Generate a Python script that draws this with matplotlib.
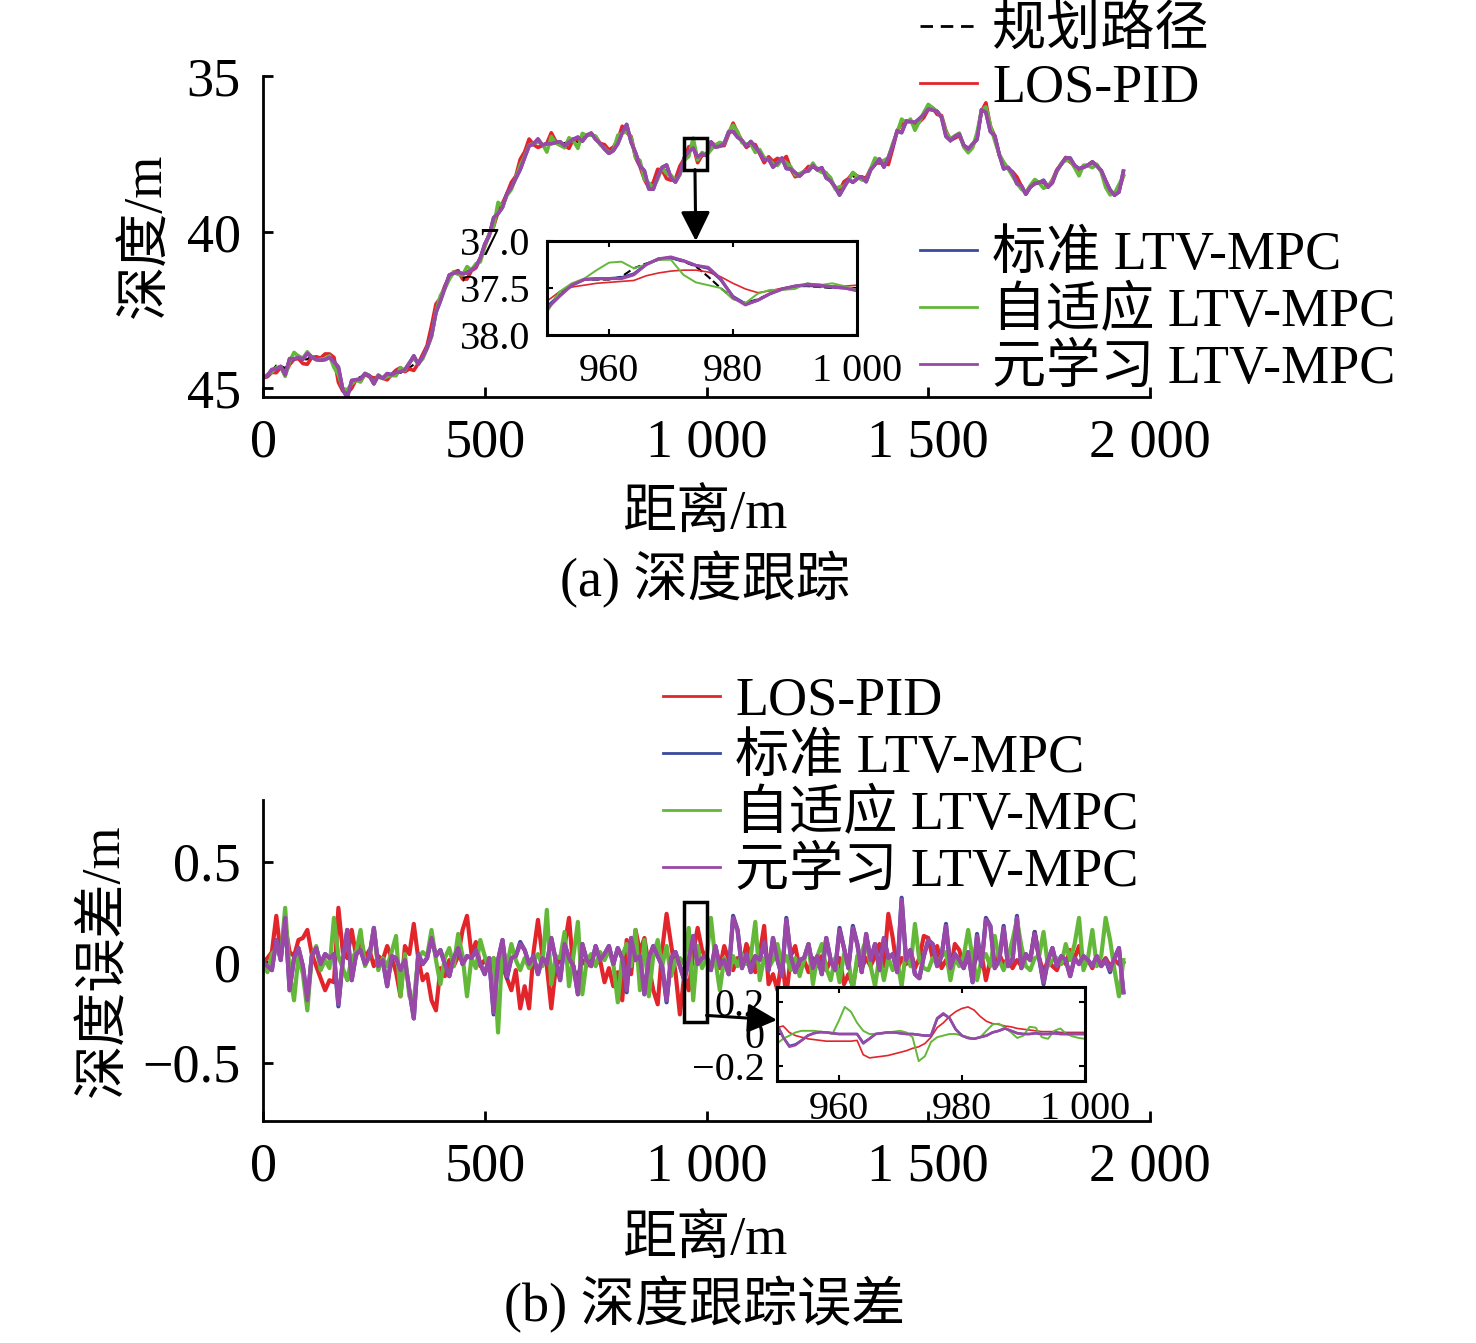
import numpy as np
import matplotlib
matplotlib.use('Agg')
import matplotlib.pyplot as plt
from matplotlib.patches import Rectangle, ConnectionPatch
from matplotlib.lines import Line2D

plt.rcParams['font.family'] = ['Liberation Serif', 'Noto Sans CJK SC']
plt.rcParams['font.size'] = 39
plt.rcParams['axes.unicode_minus'] = True

# ---- data ----
names = ['规划路径', 'LOS-PID', '标准 LTV-MPC', '自适应 LTV-MPC', '元学习 LTV-MPC']
colors = ['black', '#e2242b', '#3a4a9f', '#63b83a', '#9a48a8']

xticks = [0, 500, 1000, 1500, 2000]
xtick_labels = ['0', '500', '1 000', '1 500', '2 000']

# sampling grid (distance, m), every 10 m
dist = np.arange(0, 1950, 10)

# planned depth path
depth_ref = [44.68, 44.62, 44.45, 44.28, 44.30, 44.36, 44.20, 44.05, 43.95, 44.10,
             44.08, 43.98, 44.02, 44.12, 44.05, 44.00, 44.12, 44.55, 45.05, 45.15,
             44.85, 44.70, 44.65, 44.55, 44.58, 44.70, 44.62, 44.68, 44.66, 44.55,
             44.48, 44.52, 44.40, 44.35, 44.25, 44.20, 44.02, 43.70, 43.20, 42.55,
             42.15, 41.80, 41.45, 41.30, 41.22, 41.35, 41.28, 41.20, 41.05, 40.85,
             40.45, 40.10, 39.80, 39.40, 39.10, 38.85, 38.55, 38.25, 37.90, 37.55,
             37.25, 37.15, 37.08, 37.20, 37.18, 37.05, 37.12, 37.20, 37.15, 37.10,
             37.05, 37.12, 37.00, 36.90, 36.85, 36.95, 37.15, 37.30, 37.40, 37.40,
             37.10, 36.80, 36.70, 37.00, 37.45, 37.85, 38.20, 38.60, 38.55, 38.20,
             37.95, 38.05, 38.25, 38.35, 38.15, 37.71, 37.41, 37.18, 37.61, 37.48,
             37.52, 37.15, 37.20, 37.27, 37.15, 36.85, 36.55, 36.80, 37.10, 37.20,
             37.15, 37.25, 37.45, 37.60, 37.70, 37.80, 37.78, 37.70, 37.75, 37.95,
             38.15, 38.20, 38.05, 37.95, 37.90, 37.98, 38.00, 38.15, 38.35, 38.60,
             38.65, 38.50, 38.35, 38.23, 38.20, 38.28, 38.25, 38.00, 37.75, 37.70,
             37.80, 37.60, 37.20, 36.80, 36.50, 36.45, 36.40, 36.55, 36.45, 36.20,
             35.95, 36.00, 36.15, 36.30, 36.75, 37.10, 36.90, 36.85, 37.25, 37.30,
             37.28, 36.90, 36.10, 35.95, 36.60, 36.95, 37.50, 37.80, 37.95, 38.10,
             38.23, 38.55, 38.75, 38.55, 38.30, 38.40, 38.45, 38.55, 38.35, 38.05,
             37.80, 37.62, 37.70, 37.85, 37.98, 37.90, 37.85, 37.78, 37.85, 38.05,
             38.35, 38.70, 38.80, 38.65, 38.20]

# depth errors
err_pid = [0.00, 0.02, 0.05, 0.23, 0.04, 0.18, 0.05, 0.03, 0.11, 0.12,
           0.16, 0.04, -0.02, -0.08, -0.14, -0.09, -0.10, 0.27, 0.05, 0.02,
           0.16, 0.03, 0.12, 0.02, 0.06, -0.02, 0.03, 0.01, 0.08, 0.02,
           -0.05, -0.17, 0.08, 0.04, 0.19, 0.02, -0.09, -0.06, -0.19, -0.24,
           -0.03, -0.07, 0.01, -0.02, 0.03, 0.16, 0.23, 0.04, 0.10, -0.02,
           0.01, -0.03, 0.02, -0.05, -0.02, -0.08, -0.14, -0.04, -0.23, -0.12,
           -0.23, 0.05, 0.21, 0.03, -0.02, -0.23, -0.03, 0.02, 0.08, 0.22,
           -0.04, -0.07, 0.01, -0.02, 0.02, -0.01, 0.01, -0.10, -0.03, -0.12,
           -0.05, -0.19, 0.11, -0.06, 0.16, 0.05, 0.12, -0.02, -0.14, -0.21,
           0.06, 0.24, 0.09, -0.05, -0.26, -0.06, -0.14, 0.05, 0.17, 0.06,
           0.01, -0.02, 0.02, -0.03, 0.08, 0.01, -0.04, 0.02, -0.02, 0.09,
           0.03, -0.05, 0.04, 0.18, -0.11, -0.06, -0.14, 0.02, -0.17, 0.03,
           0.08, -0.03, 0.01, -0.05, 0.02, -0.02, 0.03, -0.04, 0.01, -0.02,
           0.02, -0.11, -0.06, -0.12, 0.01, -0.03, 0.02, -0.02, 0.03, 0.09,
           -0.02, 0.24, 0.12, -0.04, 0.02, -0.01, 0.06, -0.03, 0.02, 0.13,
           0.12, 0.02, 0.08, -0.03, 0.01, -0.04, 0.09, 0.06, -0.02, 0.01,
           -0.03, 0.03, 0.04, -0.09, 0.01, -0.02, 0.04, -0.01, 0.02, -0.03,
           0.01, -0.02, 0.03, 0.01, 0.15, 0.02, -0.05, 0.01, -0.02, -0.04,
           0.02, -0.01, 0.06, 0.02, 0.08, -0.02, 0.01, -0.03, 0.02, -0.01,
           0.02, -0.02, 0.01, -0.01, 0.00]
err_std = [0.00, -0.02, -0.04, 0.11, 0.01, 0.22, -0.14, 0.02, 0.07, -0.02,
           -0.19, 0.03, 0.07, -0.01, 0.04, 0.02, 0.04, -0.22, 0.01, 0.16,
           -0.09, 0.04, 0.06, -0.01, 0.03, 0.17, -0.02, 0.01, -0.12, 0.03,
           0.02, -0.04, 0.01, -0.14, -0.28, 0.04, -0.01, 0.02, 0.12, 0.03,
           0.06, -0.01, -0.07, 0.02, 0.07, -0.01, 0.03, 0.02, 0.06, -0.01,
           -0.06, 0.02, -0.26, 0.01, 0.11, -0.08, 0.02, 0.03, 0.10, 0.06,
           -0.01, 0.03, -0.06, 0.02, -0.01, 0.12, 0.01, -0.09, 0.09, 0.02,
           -0.02, -0.16, 0.09, 0.01, -0.02, 0.08, 0.01, 0.04, 0.08, -0.01,
           0.07, 0.02, -0.15, 0.12, 0.01, 0.03, -0.16, 0.02, 0.08, 0.03,
           -0.02, -0.20, 0.02, 0.05, -0.02, -0.09, 0.01, 0.13, -0.01, 0.02,
           0.03, -0.04, 0.08, -0.02, 0.01, -0.06, 0.23, 0.16, -0.03, 0.04,
           -0.05, 0.03, 0.01, 0.10, -0.04, 0.12, 0.01, -0.07, 0.22, 0.03,
           -0.05, 0.01, 0.02, 0.09, -0.03, 0.03, -0.06, 0.12, 0.01, -0.04,
           0.17, 0.07, -0.03, 0.18, 0.09, -0.05, 0.14, 0.01, 0.09, -0.04,
           0.12, 0.02, 0.04, -0.05, 0.32, 0.01, 0.06, -0.06, -0.08, 0.03,
           0.11, 0.09, -0.02, 0.03, 0.19, -0.03, 0.04, 0.01, -0.03, 0.05,
           -0.10, 0.14, -0.02, 0.22, 0.18, -0.03, 0.01, 0.18, -0.02, 0.01,
           0.23, -0.03, 0.04, 0.01, 0.15, 0.02, -0.11, 0.01, 0.07, -0.02,
           0.03, 0.01, -0.07, 0.02, -0.01, 0.03, 0.01, -0.02, 0.03, -0.02,
           0.01, -0.05, 0.02, 0.07, -0.15]
err_ada = [0.00, -0.05, 0.04, 0.07, 0.02, 0.27, -0.05, -0.19, 0.03, -0.06,
           -0.24, 0.03, 0.08, -0.04, 0.01, -0.03, 0.22, 0.03, -0.03, -0.09,
           0.02, 0.05, 0.16, -0.02, 0.03, 0.16, -0.04, 0.02, -0.02, 0.05,
           0.13, -0.17, 0.04, -0.17, -0.19, 0.02, 0.05, 0.03, 0.16, 0.01,
           -0.11, 0.02, 0.07, -0.02, 0.14, 0.03, -0.17, 0.02, -0.03, 0.11,
           0.03, -0.04, 0.02, -0.35, 0.08, -0.02, 0.09, 0.01, -0.04, 0.02,
           -0.03, 0.01, 0.04, -0.02, 0.26, -0.11, 0.03, 0.02, 0.15, -0.12,
           0.03, 0.20, -0.16, 0.01, 0.04, -0.02, 0.05, 0.01, 0.06, -0.01,
           -0.20, 0.03, 0.09, -0.02, 0.16, -0.14, 0.11, -0.17, 0.03, 0.11,
           -0.02, 0.08, -0.07, 0.01, 0.02, -0.01, 0.17, -0.19, 0.08, -0.03,
           0.02, 0.22, 0.01, -0.14, 0.02, -0.06, 0.03, -0.02, 0.04, -0.01,
           0.03, 0.20, -0.09, 0.02, -0.03, 0.01, 0.09, -0.02, 0.03, -0.04,
           0.02, -0.07, 0.01, 0.09, -0.11, 0.03, 0.09, -0.03, -0.09, 0.02,
           -0.10, 0.04, 0.01, -0.14, 0.03, 0.05, 0.11, -0.02, -0.12, 0.03,
           -0.09, 0.02, -0.04, 0.01, -0.12, 0.06, -0.02, 0.19, 0.01, -0.03,
           -0.04, 0.02, -0.01, 0.03, 0.05, -0.09, 0.02, -0.02, 0.03, 0.16,
           0.02, -0.09, 0.01, 0.04, -0.02, 0.13, 0.01, -0.04, 0.02, 0.11,
           0.21, 0.08, -0.02, -0.04, 0.02, 0.03, 0.15, -0.02, 0.01, 0.02,
           -0.01, 0.09, 0.01, 0.09, 0.22, -0.04, 0.02, 0.16, -0.02, 0.03,
           0.22, 0.11, -0.04, -0.17, 0.01]
err_meta = [0.00, -0.02, -0.04, 0.11, 0.01, 0.22, -0.14, 0.02, 0.07, -0.02,
            -0.19, 0.03, 0.07, -0.01, 0.04, 0.02, 0.04, -0.21, 0.01, 0.16,
            -0.09, 0.04, 0.06, -0.01, 0.03, 0.17, -0.02, 0.01, -0.12, 0.03,
            0.02, -0.04, 0.01, -0.14, -0.28, 0.04, -0.01, 0.02, 0.12, 0.03,
            0.06, -0.01, -0.07, 0.02, 0.07, -0.01, 0.03, 0.02, 0.06, -0.01,
            -0.06, 0.02, -0.25, 0.01, 0.11, -0.07, 0.02, 0.03, 0.09, 0.06,
            -0.01, 0.03, -0.06, 0.02, -0.01, 0.12, 0.01, -0.09, 0.09, 0.02,
            -0.02, -0.16, 0.09, 0.01, -0.02, 0.08, 0.01, 0.04, 0.08, -0.01,
            0.07, 0.02, -0.14, 0.12, 0.01, 0.03, -0.16, 0.02, 0.08, 0.03,
            -0.02, -0.19, 0.02, 0.05, -0.02, -0.09, 0.01, 0.13, -0.01, 0.02,
            0.03, -0.04, 0.08, -0.02, 0.01, -0.06, 0.22, 0.16, -0.03, 0.04,
            -0.05, 0.03, 0.01, 0.10, -0.04, 0.12, 0.01, -0.07, 0.21, 0.03,
            -0.05, 0.01, 0.02, 0.09, -0.03, 0.03, -0.06, 0.12, 0.01, -0.04,
            0.16, 0.07, -0.03, 0.17, 0.09, -0.05, 0.14, 0.01, 0.09, -0.04,
            0.12, 0.02, 0.04, -0.05, 0.31, 0.01, 0.06, -0.06, -0.08, 0.03,
            0.11, 0.09, -0.02, 0.03, 0.18, -0.03, 0.04, 0.01, -0.03, 0.05,
            -0.10, 0.13, -0.02, 0.21, 0.18, -0.03, 0.01, 0.17, -0.02, 0.01,
            0.22, -0.03, 0.04, 0.01, 0.14, 0.02, -0.10, 0.01, 0.07, -0.02,
            0.03, 0.01, -0.07, 0.02, -0.01, 0.03, 0.01, -0.02, 0.03, -0.02,
            0.01, -0.04, 0.02, 0.07, -0.15]

# zoomed depth, 950-1000 m every 2 m
zoom_x = np.arange(950, 1001, 2)
zoom_ref = [37.71, 37.56, 37.46, 37.41, 37.41, 37.41, 37.38, 37.29, 37.24, 37.20, 37.18, 37.22, 37.27,
            37.38, 37.50, 37.61, 37.66, 37.62, 37.56, 37.51, 37.48, 37.48, 37.49, 37.50, 37.50, 37.52]
zoom_pid = [37.64, 37.54, 37.49, 37.47, 37.45, 37.44, 37.43, 37.42, 37.37, 37.34, 37.32, 37.31, 37.31,
            37.33, 37.38, 37.45, 37.51, 37.55, 37.53, 37.50, 37.48, 37.48, 37.49, 37.48, 37.48, 37.47]
zoom_std = [37.70, 37.58, 37.47, 37.41, 37.40, 37.40, 37.39, 37.35, 37.25, 37.19, 37.18, 37.21, 37.26,
            37.29, 37.41, 37.59, 37.67, 37.63, 37.56, 37.51, 37.48, 37.47, 37.47, 37.49, 37.50, 37.52]
zoom_ada = [37.76, 37.54, 37.45, 37.40, 37.31, 37.23, 37.22, 37.29, 37.25, 37.20, 37.20, 37.36, 37.44,
            37.47, 37.50, 37.62, 37.66, 37.56, 37.52, 37.52, 37.51, 37.45, 37.47, 37.45, 37.48, 37.52]
zoom_meta = [37.72, 37.59, 37.47, 37.41, 37.40, 37.40, 37.40, 37.36, 37.25, 37.19, 37.17, 37.21, 37.26,
             37.28, 37.40, 37.60, 37.68, 37.63, 37.56, 37.51, 37.48, 37.46, 37.47, 37.49, 37.50, 37.53]

# zoomed errors, 950-1000 m every 1 m
zerr_x = np.arange(950, 1001, 1)
zerr_pid = [0.04, 0.05, 0.01, -0.01, -0.02, -0.03, -0.035, -0.04, -0.045, -0.045,
            -0.045, -0.045, -0.045, -0.04, -0.13, -0.15, -0.145, -0.14, -0.135, -0.125,
            -0.115, -0.105, -0.09, -0.08, -0.06, -0.02, 0.04, 0.07, 0.11, 0.14,
            0.16, 0.17, 0.15, 0.11, 0.08, 0.065, 0.06, 0.05, 0.045, 0.035,
            0.03, 0.025, 0.02, 0.015, 0.015, 0.015, 0.01, 0.01, 0.01, 0.01, 0.01]
zerr_std = [0.06, -0.02, -0.075, -0.065, -0.04, -0.01, 0.005, 0.012, 0.01, 0.005,
            0.0, 0.0, 0.0, 0.0, -0.055, -0.03, 0.0, 0.005, 0.01, 0.01,
            0.005, 0.0, 0.0, -0.005, -0.01, -0.01, 0.095, 0.125, 0.1, 0.03,
            -0.01, -0.025, -0.03, -0.02, -0.01, 0.01, 0.02, 0.035, 0.02, 0.005,
            0.0, 0.0, 0.005, 0.0, 0.0, 0.005, 0.0, 0.0, 0.0, 0.0, 0.0]
zerr_ada = [-0.06, -0.03, -0.01, 0.01, 0.02, 0.02, 0.02, 0.015, 0.01, 0.0,
            0.08, 0.17, 0.14, 0.07, 0.02, 0.0, 0.0, 0.005, 0.01, 0.015,
            0.02, 0.01, -0.02, -0.17, -0.14, -0.05, -0.02, -0.01, 0.0, 0.0,
            -0.01, -0.02, -0.03, -0.02, 0.02, 0.06, 0.065, 0.04, 0.01, -0.025,
            -0.01, 0.045, 0.04, -0.02, -0.03, 0.02, 0.035, 0.0, -0.015, -0.025, -0.03]
zerr_meta = [0.06, -0.02, -0.08, -0.07, -0.04, -0.01, 0.005, 0.012, 0.01, 0.005,
             0.0, 0.0, 0.0, 0.0, -0.06, -0.03, 0.0, 0.005, 0.01, 0.01,
             0.005, 0.0, 0.0, -0.005, -0.01, -0.01, 0.1, 0.13, 0.1, 0.03,
             -0.01, -0.025, -0.03, -0.02, -0.01, 0.01, 0.02, 0.035, 0.02, 0.005,
             0.0, 0.0, 0.005, 0.0, 0.0, 0.005, 0.0, 0.0, 0.0, 0.0, 0.0]

errs = [err_pid, err_std, err_ada, err_meta]
zooms = [zoom_pid, zoom_std, zoom_ada, zoom_meta]
zerrs = [zerr_pid, zerr_std, zerr_ada, zerr_meta]

W, H = 1476, 1343
fig = plt.figure(figsize=(W / 100, H / 100), dpi=100)


def fx(px):
    return px / W


def fy(py):
    return 1 - py / H


def style_main(ax):
    for s in ['top', 'right']:
        ax.spines[s].set_visible(False)
    for s in ['left', 'bottom']:
        ax.spines[s].set_linewidth(2)
    ax.tick_params(direction='in', length=7, width=2)
    ax.tick_params(axis='y', pad=16)
    ax.tick_params(axis='x', pad=15)
    ax.set_xlim(0, 2000)
    ax.set_xticks(xticks)
    ax.set_xticklabels(xtick_labels)


def style_inset(ax):
    for s in ax.spines.values():
        s.set_linewidth(2.2)
    ax.tick_params(direction='in', length=4, width=1.5, top=True, right=True,
                   labelsize=29)
    ax.set_xlim(950, 1000)
    ax.set_xticks([960, 980, 1000])
    ax.set_xticklabels(['960', '980', '1 000'])


# ---- (a) depth tracking ----
ax1 = fig.add_axes([fx(263), fy(397), fx(1150) - fx(263), fy(76) - fy(397)])
style_main(ax1)
ax1.plot(dist, depth_ref, '--', color=colors[0], lw=1.5)
for e, c in zip(errs, colors[1:]):
    ax1.plot(dist, np.array(depth_ref) + np.array(e), color=c, lw=2.6)
ax1.set_ylim(45.29, 35)
ax1.set_yticks([35, 40, 45])
ax1.set_yticklabels(['35', '40', '45'])
ax1.set_xlabel('距离/m')
ax1.xaxis.set_label_coords(0.498, -0.37)
ax1.xaxis.label.set_va('center')
ax1.set_ylabel('深度/m')
ax1.yaxis.set_label_coords(-0.131, 0.505)
ax1.yaxis.label.set_va('center')
ax1.add_patch(Rectangle((950, 37.0), 50, 1.0, fill=False, lw=2.5, ec='black', zorder=5))

axin1 = fig.add_axes([fx(547), fy(335), fx(857) - fx(547), fy(241) - fy(335)])
style_inset(axin1)
axin1.tick_params(axis='x', pad=13)
axin1.tick_params(axis='y', pad=12)
axin1.plot(zoom_x, zoom_ref, '--', color=colors[0], lw=1.5)
axin1.plot(zoom_x, zoom_pid, color=colors[1], lw=1.2)
axin1.plot(zoom_x, zoom_std, color=colors[2], lw=2.2)
axin1.plot(zoom_x, zoom_ada, color=colors[3], lw=1.4)
axin1.plot(zoom_x, zoom_meta, color=colors[4], lw=2.2)
axin1.set_ylim(38.0, 37.0)
axin1.set_yticks([37.0, 37.5, 38.0])
axin1.set_yticklabels(['37.0', '37.5', '38.0'])

con1 = ConnectionPatch(xyA=(974, 38.0), coordsA=ax1.transData,
                       xyB=(974, 37.0), coordsB=axin1.transData,
                       arrowstyle='-|>', mutation_scale=45, lw=2.2, color='black')
fig.add_artist(con1)

handles = [Line2D([], [], color=colors[0], ls=(0, (4.5, 2.8)), lw=2)] + \
          [Line2D([], [], color=c, lw=2) for c in colors[1:]]
leg_kw = dict(loc='upper left', frameon=False, borderpad=0, borderaxespad=0,
              handlelength=1.05, handletextpad=0.28, labelspacing=0.12, fontsize=39)
fig.legend(handles[:2], names[:2], bbox_to_anchor=(fx(920), fy(6)), **leg_kw)
fig.legend(handles[2:], names[2:], bbox_to_anchor=(fx(920), fy(230)), **leg_kw)

fig.text(fx(705), fy(580), '(a) 深度跟踪', ha='center', va='center')

# ---- (b) depth tracking error ----
ax2 = fig.add_axes([fx(263), fy(1121), fx(1150) - fx(263), fy(800) - fy(1121)])
style_main(ax2)
for e, c in zip(errs, colors[1:]):
    ax2.plot(dist, e, color=c, lw=3.0)
ax2.set_ylim(-0.79, 0.806)
ax2.set_yticks([-0.5, 0, 0.5])
ax2.set_yticklabels(['\u22120.5', '0', '0.5'])
ax2.set_xlabel('距离/m')
ax2.xaxis.set_label_coords(0.498, -0.377)
ax2.xaxis.label.set_va('center')
ax2.set_ylabel('深度误差/m')
ax2.yaxis.set_label_coords(-0.178, 0.50)
ax2.yaxis.label.set_va('center')
ax2.add_patch(Rectangle((950, -0.3), 50, 0.6, fill=False, lw=2.5, ec='black', zorder=5))

axin2 = fig.add_axes([fx(777), fy(1081), fx(1085) - fx(777), fy(987) - fy(1081)])
style_inset(axin2)
axin2.tick_params(axis='y', pad=9)
axin2.tick_params(axis='x', pad=7)
lws = [1.2, 1.8, 1.4, 1.8]
for z, c, lw in zip(zerrs, colors[1:], lws):
    axin2.plot(zerr_x, z, color=c, lw=lw)
axin2.set_ylim(-0.295, 0.295)
axin2.set_yticks([-0.2, 0, 0.2])
axin2.set_yticklabels(['\u22120.2', '0', '0.2'])

con2 = ConnectionPatch(xyA=(1000, -0.265), coordsA=ax2.transData,
                       xyB=(950, 0.088), coordsB=axin2.transData,
                       arrowstyle='-|>', mutation_scale=45, lw=2.2, color='black')
fig.add_artist(con2)

fig.legend(handles[1:], names[1:], bbox_to_anchor=(fx(663), fy(676)), **leg_kw)

fig.text(fx(705), fy(1305), '(b) 深度跟踪误差', ha='center', va='center')

fig.savefig('out.png', dpi=100)
